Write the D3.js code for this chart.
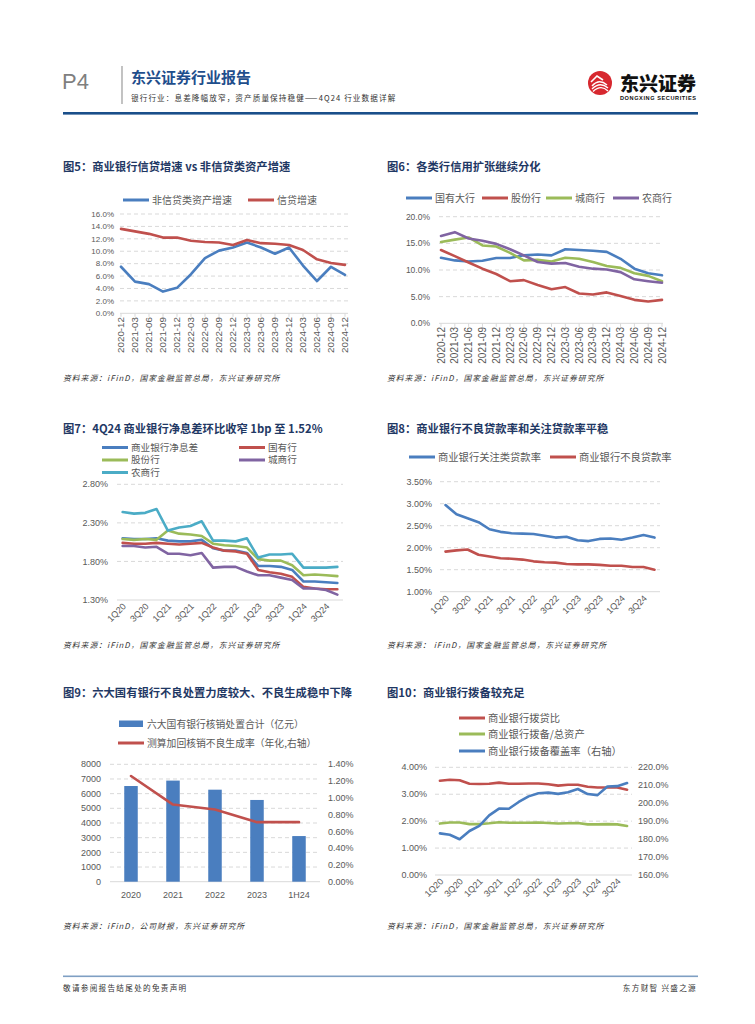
<!DOCTYPE html>
<html><head><meta charset="utf-8">
<script src="https://cdn.jsdelivr.net/npm/d3@7/dist/d3.min.js"></script>
<style>
body{margin:0;background:#fff;}
svg{display:block;font-family:"Liberation Sans","Noto Sans CJK SC",sans-serif;}
</style></head><body>
<script>
// ---------------- DATA ----------------
const months = ["2020-12","2021-03","2021-06","2021-09","2021-12","2022-03","2022-06","2022-09","2022-12","2023-03","2023-06","2023-09","2023-12","2024-03","2024-06","2024-09","2024-12"];
const nonLoanAssetGrowth = [7.5,5.1,4.7,3.5,4.1,6.3,8.9,10.1,10.6,11.4,10.6,9.6,10.6,7.7,5.2,7.5,6.2];
const loanGrowth = [13.6,13.2,12.8,12.2,12.2,11.7,11.5,11.4,11.0,11.8,11.3,11.2,11.0,10.2,8.7,8.1,7.8];
const fig5Ticks = [0,2,4,6,8,10,12,14,16];

const bigBanks = [12.3,11.8,11.6,11.75,12.25,12.25,12.75,12.9,12.75,13.9,13.75,13.6,13.4,12.1,10.25,9.4,9.0];
const jointStockBanks = [13.75,12.6,11.4,10.25,9.25,7.9,8.1,7.2,6.4,6.8,5.6,5.4,5.8,5.1,4.4,4.1,4.4];
const cityBanks = [15.25,15.7,16.1,14.6,14.4,13.2,11.8,11.9,11.6,12.3,12.1,11.5,10.75,10.4,9.4,8.9,7.9];
const ruralBanks = [16.4,17.1,15.9,15.5,14.9,13.9,12.75,11.5,11.2,11.3,10.6,10.25,10.1,9.6,8.25,7.9,7.6];
const fig6Ticks = [0,5,10,15,20];

const quarters = ["1Q20","2Q20","3Q20","4Q20","1Q21","2Q21","3Q21","4Q21","1Q22","2Q22","3Q22","4Q22","1Q23","2Q23","3Q23","4Q23","1Q24","2Q24","3Q24","4Q24"];
const quarterLabels = ["1Q20","3Q20","1Q21","3Q21","1Q22","3Q22","1Q23","3Q23","1Q24","3Q24"];

const nimAll   = [2.10,2.09,2.09,2.10,2.07,2.06,2.06,2.08,1.97,1.94,1.94,1.91,1.74,1.74,1.73,1.69,1.54,1.54,1.53,1.52];
const nimState = [2.04,2.03,2.03,2.04,2.03,2.02,2.03,2.04,1.98,1.94,1.93,1.90,1.69,1.66,1.64,1.60,1.47,1.45,1.44,1.44];
const nimJoint = [2.09,2.08,2.09,2.08,2.20,2.16,2.15,2.13,2.03,2.01,2.00,1.98,1.83,1.81,1.81,1.75,1.62,1.63,1.62,1.61];
const nimCity  = [2.00,2.00,1.98,1.99,1.90,1.90,1.88,1.91,1.72,1.73,1.73,1.67,1.62,1.62,1.59,1.56,1.45,1.45,1.43,1.37];
const nimRural = [2.44,2.42,2.43,2.48,2.20,2.24,2.26,2.32,2.07,2.07,2.06,2.10,1.85,1.89,1.89,1.90,1.72,1.72,1.72,1.73];
const fig7Ticks = [1.30,1.80,2.30,2.80];

const specialMentionRatio = [2.97,2.76,2.67,2.58,2.42,2.36,2.33,2.32,2.31,2.27,2.23,2.25,2.17,2.15,2.20,2.21,2.18,2.23,2.29,2.23];
const nplRatio = [1.91,1.94,1.96,1.84,1.80,1.76,1.75,1.73,1.69,1.67,1.66,1.63,1.62,1.62,1.61,1.59,1.59,1.56,1.56,1.50];
const fig8Ticks = [1.0,1.5,2.0,2.5,3.0,3.5];

const writeoffPeriods = ["2020","2021","2022","2023","1H24"];
const writeoffAmount = [6520,6890,6270,5570,3110];
const nplFormationRate = [1.26,0.92,0.86,0.71,0.71];
const fig9LeftTicks = [0,1000,2000,3000,4000,5000,6000,7000,8000];
const fig9RightTicks = [0,0.2,0.4,0.6,0.8,1.0,1.2,1.4];

const provisionLoanRatio = [3.50,3.54,3.52,3.39,3.38,3.39,3.43,3.39,3.39,3.40,3.40,3.37,3.32,3.35,3.35,3.28,3.25,3.25,3.25,3.17];
const provisionAssetRatio = [1.91,1.95,1.95,1.89,1.89,1.92,1.96,1.94,1.94,1.94,1.95,1.93,1.91,1.92,1.93,1.88,1.88,1.89,1.88,1.82];
const provisionCoverage = [183.2,182.4,179.9,184.5,187.4,193.2,197.0,196.9,200.7,203.8,205.5,205.9,205.2,206.1,207.9,205.1,204.5,209.3,209.5,211.2];
const fig10LeftTicks = [0,1,2,3,4];
const fig10RightTicks = [160,170,180,190,200,210,220];

// ---------------- STYLE ----------------
const C = {blue:"#4a7ebf", red:"#c0504d", green:"#9bbb59", purple:"#8064a2", cyan:"#4bacc6",
  title:"#1f3864", axis:"#595959", grid:"#d9d9d9"};
const CJK = '"Noto Sans CJK SC",sans-serif';

const svg = d3.select("body").append("svg").attr("width",755).attr("height",1024);

// ---------------- HEADER ----------------
svg.append("text").attr("x",62).attr("y",89).attr("font-size",22).attr("fill","#7f7f7f")
  .attr("font-family","Liberation Sans, sans-serif").text("P4");
svg.append("line").attr("x1",122).attr("x2",122).attr("y1",66).attr("y2",104).attr("stroke","#9a9a9a").attr("stroke-width",1.2);
svg.append("text").attr("x",131).attr("y",83).attr("font-size",15).attr("font-weight","bold")
  .attr("fill","#1f4e8c").attr("font-family",CJK).text("东兴证券行业报告");
svg.append("text").attr("x",131).attr("y",101).attr("font-size",7.6).attr("fill","#333").attr("letter-spacing",1.1)
  .attr("font-family",CJK).text("银行行业：息差降幅放窄，资产质量保持稳健——4Q24 行业数据详解");
// logo
const logo = svg.append("g").attr("transform","translate(600,83)");
logo.append("circle").attr("r",12).attr("fill","#d7282f");
[[-8,3,-1,-5,7,2],[-8,6,0,-2,8,5],[-7,8.5,1,1,8,8]].forEach(p=>{
  logo.append("path").attr("d",`M${p[0]},${p[1]} Q${p[2]},${p[3]} ${p[4]},${p[5]}`)
    .attr("fill","none").attr("stroke","#fff").attr("stroke-width",1.4);
});
logo.append("path").attr("d","M-9,-1 L-3,-7 L3,-3").attr("fill","none").attr("stroke","#fff").attr("stroke-width",1.6);
svg.append("text").attr("x",620).attr("y",91).attr("font-size",19).attr("font-weight","900")
  .attr("fill","#111").attr("font-family",CJK).attr("textLength",76).text("东兴证券");
svg.append("text").attr("x",620).attr("y",99.5).attr("font-size",5.6).attr("font-weight","bold")
  .attr("fill","#111").attr("textLength",76).text("DONGXING SECURITIES");
svg.append("rect").attr("x",63).attr("y",112).attr("width",635).attr("height",2.6).attr("fill","#1a4f8a");

// footer
svg.append("rect").attr("x",63).attr("y",975.5).attr("width",635).attr("height",1.6).attr("fill","#7f9fc3");
svg.append("text").attr("x",63).attr("y",991).attr("font-size",7.6).attr("fill","#333").attr("letter-spacing",1.3)
  .attr("font-family",CJK).text("敬请参阅报告结尾处的免责声明");
svg.append("text").attr("x",697).attr("y",991).attr("font-size",7.6).attr("fill","#333").attr("letter-spacing",1.3)
  .attr("font-family",CJK).attr("text-anchor","end").text("东方财智 兴盛之源");

// ---------------- HELPERS ----------------
function title(x,y,t){
  svg.append("text").attr("x",x).attr("y",y).attr("font-size",11.3).attr("font-weight","bold")
    .attr("fill",C.title).attr("font-family",CJK).text(t);
}
function source(x,y,t){
  svg.append("text").attr("x",x).attr("y",y).attr("font-size",7.8).attr("font-style","italic")
    .attr("letter-spacing",1).attr("fill","#333").attr("font-family",CJK).text(t);
}
function legendLine(x,y,color,t,fs){
  svg.append("line").attr("x1",x).attr("x2",x+26).attr("y1",y).attr("y2",y).attr("stroke",color).attr("stroke-width",3);
  svg.append("text").attr("x",x+29).attr("y",y).attr("dy","0.36em").attr("font-size",fs||10)
    .attr("fill",C.axis).attr("font-family",CJK).text(t);
}
function grid(y,ticks,x0,x1,fmt,labelX,anchor,fs){
  const g = svg.append("g");
  ticks.forEach((t,i)=>{
    g.append("line").attr("x1",x0).attr("x2",x1).attr("y1",y(t)).attr("y2",y(t))
      .attr("stroke",C.grid).attr("stroke-width",1).attr("stroke-dasharray",i===0?null:"4,3");
  });
  yLabels(y,ticks,fmt,labelX,anchor,fs);
}
function yLabels(y,ticks,fmt,labelX,anchor,fs){
  ticks.forEach(t=>{
    svg.append("text").attr("x",labelX).attr("y",y(t)).attr("dy","0.35em").attr("text-anchor",anchor)
      .attr("font-size",fs).attr("fill",C.axis).text(fmt(t));
  });
}
function series(x,y,cats,vals,color,w){
  const line = d3.line().x((d,i)=>x(cats[i])).y(d=>y(d)).curve(d3.curveLinear);
  svg.append("path").datum(vals).attr("d",line).attr("fill","none").attr("stroke",color)
    .attr("stroke-width",w||2.6).attr("stroke-linejoin","round").attr("stroke-linecap","round");
}
function bandSeries(x,y,cats,vals,color,w){
  const line = d3.line().x((d,i)=>x(cats[i])+x.bandwidth()/2).y(d=>y(d));
  svg.append("path").datum(vals).attr("d",line).attr("fill","none").attr("stroke",color)
    .attr("stroke-width",w||2.6).attr("stroke-linejoin","round").attr("stroke-linecap","round");
}
function rotLabels(x,cats,labels,y0,fs){
  labels.forEach(l=>{
    const cx = x(l)+x.bandwidth()/2;
    svg.append("text").attr("transform",`translate(${cx+4},${y0}) rotate(-45)`)
      .attr("text-anchor","end").attr("font-size",fs).attr("fill",C.axis).text(l);
  });
}
function vertLabels(x,cats,y0,fs,tickY){
  cats.forEach(c=>{
    svg.append("line").attr("x1",x(c)).attr("x2",x(c)).attr("y1",tickY).attr("y2",tickY+3.5).attr("stroke",C.grid);
    svg.append("text").attr("transform",`translate(${x(c)},${y0}) rotate(-90)`)
      .attr("text-anchor","end").attr("dy","0.35em").attr("font-size",fs).attr("fill",C.axis).text(c);
  });
}

// ---------------- FIG 5 ----------------
title(63,171,"图5：商业银行信贷增速 vs 非信贷类资产增速");
legendLine(123,200,C.blue,"非信贷类资产增速");
legendLine(248,200,C.red,"信贷增速");
{
  const y = d3.scaleLinear().domain([0,16]).range([313.3,214]);
  const x = d3.scalePoint().domain(months).range([121,345]);
  grid(y,fig5Ticks,120,348,d=>d.toFixed(1)+"%",114,"end",8);
  vertLabels(x,months,317,9.8,313.3);
  series(x,y,months,nonLoanAssetGrowth,C.blue);
  series(x,y,months,loanGrowth,C.red);
}
source(63,381,"资料来源：iFinD，国家金融监管总局，东兴证券研究所");

// ---------------- FIG 6 ----------------
title(387,171,"图6：各类行信用扩张继续分化");
legendLine(406,198,C.blue,"国有大行");
legendLine(482,198,C.red,"股份行");
legendLine(546,198,C.green,"城商行");
legendLine(613,198,C.purple,"农商行");
{
  const y = d3.scaleLinear().domain([0,20]).range([323.3,216.7]);
  const x = d3.scalePoint().domain(months).range([441,662]);
  grid(y,fig6Ticks,439,663,d=>d.toFixed(1)+"%",430,"end",8.5);
  vertLabels(x,months,327,10,323.3);
  series(x,y,months,bigBanks,C.blue);
  series(x,y,months,jointStockBanks,C.red);
  series(x,y,months,cityBanks,C.green);
  series(x,y,months,ruralBanks,C.purple);
}
source(387,381,"资料来源：iFinD，国家金融监管总局，东兴证券研究所");

// ---------------- FIG 7 ----------------
title(63,433,"图7：4Q24 商业银行净息差环比收窄 1bp 至 1.52%");
legendLine(102,447.5,C.blue,"商业银行净息差",9.6);
legendLine(239,447.5,C.red,"国有行",9.6);
legendLine(102,460,C.green,"股份行",9.6);
legendLine(239,460,C.purple,"城商行",9.6);
legendLine(102,472.5,C.cyan,"农商行",9.6);
{
  const y = d3.scaleLinear().domain([1.3,2.8]).range([600,484.3]);
  const x = d3.scaleBand().domain(quarters).range([117,343]);
  grid(y,fig7Ticks,117,343,d=>d.toFixed(2)+"%",108,"end",9);
  rotLabels(x,quarters,quarterLabels,607,9);
  bandSeries(x,y,quarters,nimAll,C.blue);
  bandSeries(x,y,quarters,nimState,C.red);
  bandSeries(x,y,quarters,nimJoint,C.green);
  bandSeries(x,y,quarters,nimCity,C.purple);
  bandSeries(x,y,quarters,nimRural,C.cyan);
}
source(63,648,"资料来源：iFinD，国家金融监管总局，东兴证券研究所");

// ---------------- FIG 8 ----------------
title(387,433,"图8：商业银行不良贷款率和关注贷款率平稳");
legendLine(409,457,C.blue,"商业银行关注类贷款率",10.3);
legendLine(550,457,C.red,"商业银行不良贷款率",10.3);
{
  const y = d3.scaleLinear().domain([1,3.5]).range([591.7,481.7]);
  const x = d3.scaleBand().domain(quarters).range([440,660]);
  grid(y,fig8Ticks,440,660,d=>d.toFixed(2)+"%",432,"end",9);
  rotLabels(x,quarters,quarterLabels,599,9);
  bandSeries(x,y,quarters,specialMentionRatio,C.blue);
  bandSeries(x,y,quarters,nplRatio,C.red);
}
source(387,648,"资料来源：  iFinD，国家金融监管总局，东兴证券研究所");

// ---------------- FIG 9 ----------------
title(63,697,"图9：六大国有银行不良处置力度较大、不良生成稳中下降");
svg.append("rect").attr("x",119).attr("y",720.5).attr("width",24).attr("height",6.5).attr("fill",C.blue);
svg.append("text").attr("x",147).attr("y",724).attr("dy","0.36em").attr("font-size",9.8).attr("fill",C.axis)
  .attr("font-family",CJK).text("六大国有银行核销处置合计（亿元）");
legendLine(118,743,C.red,"测算加回核销不良生成率（年化,右轴）",9.8);
{
  const yL = d3.scaleLinear().domain([0,8000]).range([881.7,764.3]);
  const yR = d3.scaleLinear().domain([0,1.4]).range([881.7,764.3]);
  const x = d3.scaleBand().domain(writeoffPeriods).range([110,320]);
  grid(yL,fig9LeftTicks,110,320,d=>d,101,"end",9);
  yLabels(yR,fig9RightTicks,d=>d.toFixed(2)+"%",328,"start",9);
  const bw = 13.5;
  svg.append("g").selectAll("rect").data(writeoffAmount).join("rect")
    .attr("x",(d,i)=>x(writeoffPeriods[i])+x.bandwidth()/2-bw/2)
    .attr("width",bw).attr("y",d=>yL(d)).attr("height",d=>yL(0)-yL(d)).attr("fill",C.blue);
  bandSeries(x,yR,writeoffPeriods,nplFormationRate,C.red,2.6);
  writeoffPeriods.forEach(p=>{
    svg.append("text").attr("x",x(p)+x.bandwidth()/2).attr("y",898).attr("text-anchor","middle")
      .attr("font-size",9).attr("fill",C.axis).text(p);
  });
}
source(63,929,"资料来源：iFinD，公司财报，东兴证券研究所");

// ---------------- FIG 10 ----------------
title(387,697,"图10：商业银行拨备较充足");
legendLine(459,718,C.red,"商业银行拨贷比",10.3);
legendLine(459,734,C.green,"商业银行拨备/总资产",10.3);
legendLine(459,751,C.blue,"商业银行拨备覆盖率（右轴）",10.3);
{
  const yL = d3.scaleLinear().domain([0,4]).range([875,767.3]);
  const yR = d3.scaleLinear().domain([160,220]).range([875,767.3]);
  const x = d3.scaleBand().domain(quarters).range([435,632]);
  grid(yL,fig10LeftTicks,435,632,d=>d.toFixed(2)+"%",427,"end",9);
  yLabels(yR,fig10RightTicks,d=>d.toFixed(1)+"%",638,"start",9);
  rotLabels(x,quarters,quarterLabels,882,9);
  bandSeries(x,yL,quarters,provisionLoanRatio,C.red);
  bandSeries(x,yL,quarters,provisionAssetRatio,C.green);
  bandSeries(x,yR,quarters,provisionCoverage,C.blue);
}
source(387,929,"资料来源：iFinD，国家金融监管总局，东兴证券研究所");
</script>
</body></html>
